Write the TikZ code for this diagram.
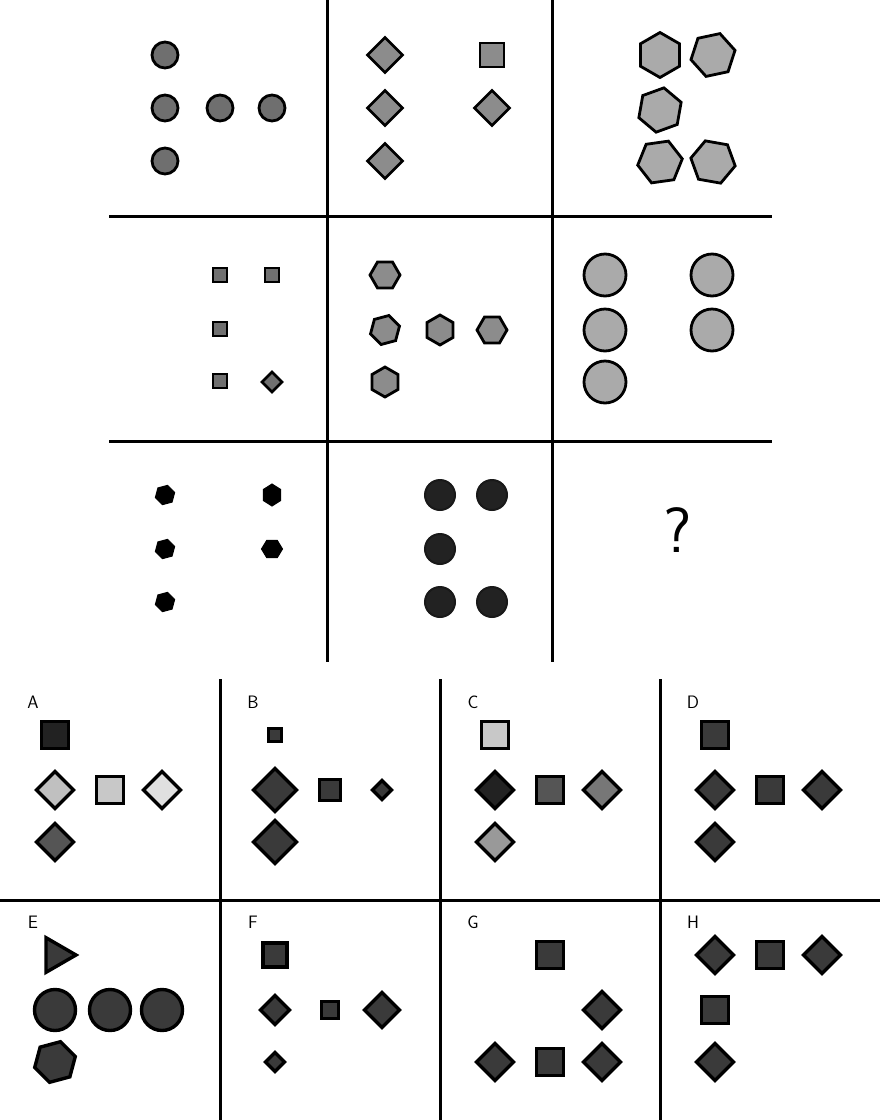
\documentclass[tikz,border=0pt]{standalone}
\usetikzlibrary{shapes.geometric}
\definecolor{gA}{HTML}{6F6F6F}
\definecolor{gB}{HTML}{8C8C8C}
\definecolor{gC}{HTML}{AAAAAA}
\definecolor{gD}{HTML}{707070}
\definecolor{gK}{HTML}{222222}
\definecolor{gO}{HTML}{3A3A3A}
\definecolor{gL1}{HTML}{C0C0C0}
\definecolor{gL2}{HTML}{C8C8C8}
\definecolor{gL3}{HTML}{E0E0E0}
\definecolor{gM1}{HTML}{555555}
\definecolor{gM2}{HTML}{777777}
\definecolor{gM3}{HTML}{999999}
\begin{document}
\begin{tikzpicture}[x=1pt,y=-1pt,
  sh/.style={draw=black, line width=2.8pt, inner sep=0pt, outer sep=0pt},
  osh/.style={line width=3.4pt},
  circ/.style={sh, circle, minimum size=#1},
  sq/.style={sh, rectangle, minimum size=#1},
  dia/.style={sh, diamond, minimum width=#1, minimum height=#1},
  hexa/.style={sh, regular polygon, regular polygon sides=6, minimum size=#1},
  tri/.style={sh, regular polygon, regular polygon sides=3, minimum size=#1},
  grid/.style={line width=3pt, line cap=rect},
  lbl/.style={font=\sffamily\fontsize{18}{18}\selectfont, inner sep=0pt}
]
\useasboundingbox (0,0) rectangle (880,1120);
\fill[white] (0,0) rectangle (880,1120);

% ---- grid of the matrix
\coordinate (v1t) at (327,0);   \coordinate (v1b) at (327,660);
\coordinate (v2t) at (552,0);   \coordinate (v2b) at (552,660);
\coordinate (h1l) at (110,216); \coordinate (h1r) at (770,216);
\coordinate (h2l) at (110,441); \coordinate (h2r) at (770,441);
\draw[grid] (v1t) -- (v1b);
\draw[grid] (v2t) -- (v2b);
\draw[grid] (h1l) -- (h1r);
\draw[grid] (h2l) -- (h2r);

% ---- grid of the answers
\coordinate (hl) at (0,900);   \coordinate (hr) at (880,900);
\coordinate (a1t) at (220,680); \coordinate (a1b) at (220,1120);
\coordinate (a2t) at (440,680); \coordinate (a2b) at (440,1120);
\coordinate (a3t) at (660,680); \coordinate (a3b) at (660,1120);
\draw[grid] (hl) -- (hr);
\draw[grid] (a1t) -- (a1b);
\draw[grid] (a2t) -- (a2b);
\draw[grid] (a3t) -- (a3b);

% ---- cell 1
\node[circ=26, fill=gA] (c1a) at (165,55) {};
\node[circ=26, fill=gA] (c1b) at (165,108) {};
\node[circ=26, fill=gA] (c1c) at (220,108) {};
\node[circ=26, fill=gA] (c1d) at (272,108) {};
\node[circ=26, fill=gA] (c1e) at (165,161) {};

% ---- cell 2
\node[dia=35, fill=gB] (c2a) at (385,55) {};
\node[dia=35, fill=gB] (c2b) at (385,108) {};
\node[dia=35, fill=gB] (c2c) at (385,161) {};
\node[sq=24, fill=gB] (c2d) at (492,55) {};
\node[dia=35, fill=gB] (c2e) at (492,108) {};

% ---- cell 3
\node[hexa=45, fill=gC, shape border rotate=30] (c3a) at (660,55) {};
\node[hexa=45, fill=gC, shape border rotate=12] (c3b) at (713,55) {};
\node[hexa=45, fill=gC, shape border rotate=20] (c3c) at (660,110) {};
\node[hexa=45, fill=gC, shape border rotate=8] (c3d) at (660,162) {};
\node[hexa=45, fill=gC, shape border rotate=-10] (c3e) at (713,162) {};

% ---- cell 4
\node[sq=14, fill=gD] (c4a) at (220,275) {};
\node[sq=14, fill=gD] (c4b) at (272,275) {};
\node[sq=14, fill=gD] (c4c) at (220,329) {};
\node[sq=14, fill=gD] (c4d) at (220,381) {};
\node[dia=20, fill=gD] (c4e) at (272,382) {};

% ---- cell 5
\node[hexa=30, fill=gB] (c5a) at (385,275) {};
\node[hexa=30, fill=gB, shape border rotate=15] (c5b) at (385,330) {};
\node[hexa=30, fill=gB, shape border rotate=30] (c5c) at (440,330) {};
\node[hexa=30, fill=gB] (c5d) at (492,330) {};
\node[hexa=30, fill=gB, shape border rotate=30] (c5e) at (385,382) {};

% ---- cell 6
\node[circ=42, fill=gC] (c6a) at (605,275) {};
\node[circ=42, fill=gC] (c6b) at (712,275) {};
\node[circ=42, fill=gC] (c6c) at (605,330) {};
\node[circ=42, fill=gC] (c6d) at (712,330) {};
\node[circ=42, fill=gC] (c6e) at (605,382) {};

% ---- cell 7
\node[hexa=20, fill=black, line width=1pt, shape border rotate=15] (c7a) at (165,495) {};
\node[hexa=20, fill=black, line width=1pt, shape border rotate=30, yscale=1.1] (c7b) at (272,495) {};
\node[hexa=20, fill=black, line width=1pt, shape border rotate=15] (c7c) at (165,549) {};
\node[hexa=20, fill=black, line width=1pt, xscale=1.05] (c7d) at (272,549) {};
\node[hexa=20, fill=black, line width=1pt, shape border rotate=15] (c7e) at (165,602) {};

% ---- cell 8
\node[circ=30, fill=gK, draw=black!90, line width=2pt] (c8a) at (440,495) {};
\node[circ=30, fill=gK, draw=black!90, line width=2pt] (c8b) at (492,495) {};
\node[circ=30, fill=gK, draw=black!90, line width=2pt] (c8c) at (440,549) {};
\node[circ=30, fill=gK, draw=black!90, line width=2pt] (c8d) at (440,602) {};
\node[circ=30, fill=gK, draw=black!90, line width=2pt] (c8e) at (492,602) {};

% ---- cell 9
\node[font=\sffamily\fontsize{64}{64}\selectfont, inner sep=0pt] (q) at (678,530) {?};

% ---- option A
\node[lbl] (lA) at (33,702) {A};
\node[sq=27, fill=gK, osh] (oAa) at (55,735) {};
\node[dia=37, fill=gL1, osh] (oAb) at (55,790) {};
\node[sq=27, fill=gL2, osh] (oAc) at (110,790) {};
\node[dia=37, fill=gL3, osh] (oAd) at (162,790) {};
\node[dia=37, fill=gM1, osh] (oAe) at (55,842) {};

% ---- option B
\node[lbl] (lB) at (253,702) {B};
\node[sq=13, fill=gO, osh] (oBa) at (275,735) {};
\node[dia=43, fill=gO, osh] (oBb) at (275,790) {};
\node[sq=21, fill=gO, osh] (oBc) at (330,790) {};
\node[dia=19, fill=gO, osh] (oBd) at (382,790) {};
\node[dia=43, fill=gO, osh] (oBe) at (275,842) {};

% ---- option C
\node[lbl] (lC) at (473,702) {C};
\node[sq=27, fill=gL2, osh] (oCa) at (495,735) {};
\node[dia=37, fill=gK, osh] (oCb) at (495,790) {};
\node[sq=27, fill=gM1, osh] (oCc) at (550,790) {};
\node[dia=37, fill=gM2, osh] (oCd) at (602,790) {};
\node[dia=37, fill=gM3, osh] (oCe) at (495,842) {};

% ---- option D
\node[lbl] (lD) at (693,702) {D};
\node[sq=27, fill=gO, osh] (oDa) at (715,735) {};
\node[dia=37, fill=gO, osh] (oDb) at (715,790) {};
\node[sq=27, fill=gO, osh] (oDc) at (770,790) {};
\node[dia=37, fill=gO, osh] (oDd) at (822,790) {};
\node[dia=37, fill=gO, osh] (oDe) at (715,842) {};

% ---- option E
\node[lbl] (lE) at (33,922) {E};
\node[tri=40, fill=gO, osh, shape border rotate=-90] (oEa) at (56,955) {};
\node[circ=41, fill=gO, osh] (oEb) at (55,1010) {};
\node[circ=41, fill=gO, osh] (oEc) at (110,1010) {};
\node[circ=41, fill=gO, osh] (oEd) at (162,1010) {};
\node[hexa=42, fill=gO, osh, shape border rotate=15] (oEe) at (55,1062) {};

% ---- option F
\node[lbl] (lF) at (253,922) {F};
\node[sq=24, fill=gO, osh] (oFa) at (275,955) {};
\node[dia=29, fill=gO, osh] (oFb) at (275,1010) {};
\node[sq=17, fill=gO, osh] (oFc) at (330,1010) {};
\node[dia=35, fill=gO, osh] (oFd) at (382,1010) {};
\node[dia=19, fill=gO, osh] (oFe) at (275,1062) {};

% ---- option G
\node[lbl] (lG) at (473,922) {G};
\node[sq=27, fill=gO, osh] (oGa) at (550,955) {};
\node[dia=37, fill=gO, osh] (oGb) at (602,1010) {};
\node[dia=37, fill=gO, osh] (oGc) at (495,1062) {};
\node[sq=27, fill=gO, osh] (oGd) at (550,1062) {};
\node[dia=37, fill=gO, osh] (oGe) at (602,1062) {};

% ---- option H
\node[lbl] (lH) at (693,922) {H};
\node[dia=37, fill=gO, osh] (oHa) at (715,955) {};
\node[sq=27, fill=gO, osh] (oHb) at (770,955) {};
\node[dia=37, fill=gO, osh] (oHc) at (822,955) {};
\node[sq=27, fill=gO, osh] (oHd) at (715,1010) {};
\node[dia=37, fill=gO, osh] (oHe) at (715,1062) {};
\end{tikzpicture}
\end{document}
